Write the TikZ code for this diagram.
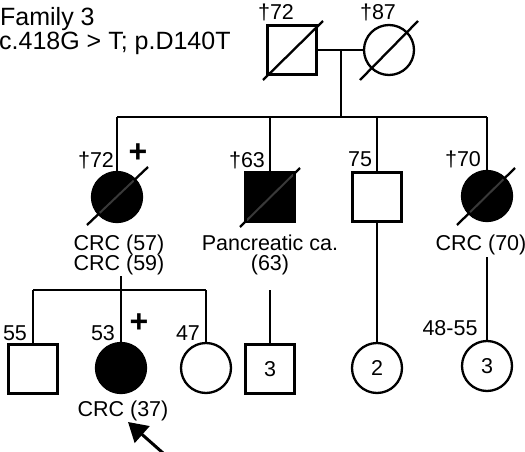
\documentclass[tikz,border=0pt]{standalone}
\usepackage{fontspec}
\setmainfont{Liberation Sans}
\usetikzlibrary{arrows.meta}
\begin{document}
\begin{tikzpicture}[x=1pt,y=-1pt,
  lf/.style={font=\fontsize{21.5}{23}\selectfont},
  male/.style={draw,line width=2.3pt,rectangle,minimum size=49pt,inner sep=0pt,lf},
  female/.style={draw,line width=2.3pt,circle,minimum size=50pt,inner sep=0pt,lf},
  aff/.style={fill=black},
  lbl/.style={inner sep=0pt,anchor=base,lf},
  plus/.style={inner sep=0pt,font=\fontsize{32}{32}\selectfont\bfseries},
  ttl/.style={inner sep=0pt,anchor=base west,font=\fontsize{25}{26}\selectfont},
  ln/.style={line width=2.3pt},
  sl/.style={line width=2.3pt},
  slin/.style={line width=2pt,gray!45!black}]
\useasboundingbox (0,0) rectangle (525,452);

% title
\node[ttl] (t1) at (0,26) {Family 3};
\node[ttl] (t2) at (-1,50) {c.418G > T; p.D140T};

% generation I
\node[male] (I1) at (292,50) {};
\node[female] (I2) at (389,50) {};
\coordinate (m1) at (341,50);
\coordinate (s1) at (341,117);
\coordinate (s1L) at (117,117);
\coordinate (s1R) at (487,117);
\node[lbl] (I1a) at (276,20) {†72};
\node[lbl] (I2a) at (378,20) {†87};

% generation II
\node[female,aff] (II1) at (117,197) {};
\node[male,aff] (II2) at (270,197) {};
\node[male] (II3) at (377,197) {};
\node[female,aff] (II4) at (487,196) {};
\node[lbl] (II1a) at (96,167) {†72};
\node[plus] (II1p) at (138,153) {+};
\node[lbl] (II2a) at (247,167) {†63};
\node[lbl] (II3a) at (360,166) {75};
\node[lbl] (II4a) at (463,166) {†70};
\node[lbl] (II1d1) at (119,250) {CRC (57)};
\node[lbl] (II1d2) at (119,270) {CRC (59)};
\node[lbl] (II2d1) at (270,250) {Pancreatic ca.};
\node[lbl] (II2d2) at (270,270) {(63)};
\node[lbl] (II4d1) at (481,250) {CRC (70)};

% generation III
\coordinate (s2) at (121,290);
\coordinate (s2L) at (33,290);
\coordinate (s2R) at (206,290);
\node[male] (III1) at (33,369) {};
\node[female,aff] (III2) at (121,368) {};
\node[female] (III3) at (206,368) {};
\node[male] (III4) at (270,369) {3};
\node[female] (III5) at (377,368) {2};
\node[female] (III6) at (487,366) {3};
\node[lbl] (III1a) at (15,340) {55};
\node[lbl] (III2a) at (103,340) {53};
\node[plus] (III2p) at (139,323) {+};
\node[lbl] (III3a) at (188,340) {47};
\node[lbl] (III2d) at (123,416) {CRC (37)};
\node[lbl] (III6a) at (450,335) {48-55};
\coordinate (III4top) at (270,290);
\coordinate (II1b) at (121,276);
\coordinate (II4b) at (487,257);

% connectors
\draw[ln] (I1) -- (I2);
\draw[ln] (m1) -- (s1);
\draw[ln] (s1L) -- (s1R);
\draw[ln] (s1L) -- (II1);
\draw[ln] (II2 |- s1) -- (II2);
\draw[ln] (II3 |- s1) -- (II3);
\draw[ln] (s1R) -- (II4);
\draw[ln] (II1b) -- (III2);
\draw[ln] (s2L) -- (s2R);
\draw[ln] (s2L) -- (III1);
\draw[ln] (s2R) -- (III3);
\draw[ln] (III4top) -- (III4);
\draw[ln] (II3) -- (III5);
\draw[ln] (II4b) -- (III6);

% deceased slashes
\draw[sl] ([shift={(-29,30)}]I1.center) -- ([shift={(31,-29)}]I1.center);
\draw[sl] ([shift={(-29,30)}]I2.center) -- ([shift={(29,-29)}]I2.center);
\draw[sl] ([shift={(-30,28)}]II1.center) -- ([shift={(31,-30)}]II1.center);
\draw[sl] ([shift={(-30,30)}]II2.center) -- ([shift={(30,-29)}]II2.center);
\draw[sl] ([shift={(-30,29)}]II4.center) -- ([shift={(28,-28)}]II4.center);
\begin{scope}
  \clip (II1.center) circle (23.5pt);
  \draw[slin] ([shift={(-30,28)}]II1.center) -- ([shift={(31,-30)}]II1.center);
\end{scope}
\begin{scope}
  \clip ([shift={(-23,-23)}]II2.center) rectangle ([shift={(23,23)}]II2.center);
  \draw[slin] ([shift={(-30,30)}]II2.center) -- ([shift={(30,-29)}]II2.center);
\end{scope}
\begin{scope}
  \clip (II4.center) circle (23.5pt);
  \draw[slin] ([shift={(-30,29)}]II4.center) -- ([shift={(28,-28)}]II4.center);
\end{scope}

% proband arrow
\coordinate (arT) at (163,453);
\coordinate (arH) at (128,422);
\draw[line width=3pt,-{Triangle[length=19pt,width=22pt]}] (arT) -- (arH);
\end{tikzpicture}
\end{document}
